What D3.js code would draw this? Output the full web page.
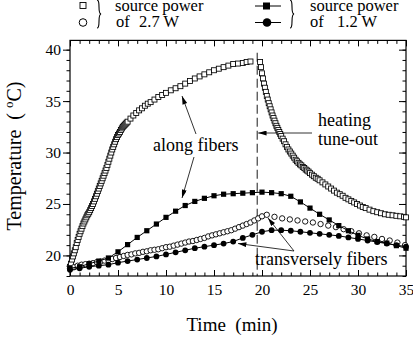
<!DOCTYPE html>
<html>
<head>
<meta charset="utf-8">
<script src="https://cdn.jsdelivr.net/npm/d3@7"></script>
<style>
  body { margin: 0; background: #fff; }
  svg { display: block; font-family: "Liberation Serif", "Times New Roman", serif; }
  .tick text { font-size: 15.5px; fill: #000; font-family: "Liberation Serif", serif; }
  .tick line { stroke: #000; stroke-width: 1; }
</style>
</head>
<body>
<svg id="chart" width="413" height="339"></svg>
<script>
// 2.7 W, along fibers (open squares)
const highAlongTime = [
  0, 0.1, 0.2, 0.3, 0.4, 0.5, 0.6, 0.7, 0.8, 0.9,
  1.0, 1.1, 1.2, 1.3, 1.4, 1.5, 1.6, 1.7, 1.8, 1.9,
  2.0, 2.1, 2.2, 2.3, 2.4, 2.5, 2.6, 2.7, 2.8, 2.9,
  3.0, 3.1, 3.2, 3.3, 3.4, 3.5, 3.6, 3.7, 3.8, 3.9,
  4.0, 4.1, 4.2, 4.3, 4.4, 4.5, 4.6, 4.7, 4.8, 4.9,
  5.0, 5.1, 5.2, 5.3, 5.4, 5.5, 5.6, 5.7, 5.8, 5.9, 6.0,
  6.3, 6.6, 6.9, 7.2, 7.5, 7.8, 8.1, 8.4, 8.8, 9.2, 9.6, 10.0,
  10.5, 11.0, 11.5, 12.0, 12.5, 13.0, 13.5, 14.0, 14.5, 15.0, 15.5, 16.0, 16.5,
  17.0, 17.5, 18.0, 18.4, 18.8,
  19.8, 19.9, 20.0, 20.1, 20.2, 20.3, 20.4, 20.5, 20.6, 20.7, 20.8, 20.9,
  21.0, 21.1, 21.2, 21.3, 21.4, 21.5, 21.6, 21.7, 21.8, 21.9, 22.0,
  22.15, 22.3, 22.45, 22.6, 22.75, 22.9, 23.05, 23.2, 23.35, 23.5, 23.65, 23.8,
  23.95, 24.1, 24.25, 24.4, 24.55, 24.7, 24.85, 25.0,
  25.2, 25.4, 25.6, 25.8, 26.0, 26.3, 26.6, 26.9, 27.2, 27.5, 27.8,
  28.1, 28.4, 28.7, 29.0, 29.3, 29.6, 29.9, 30.2, 30.5, 30.8, 31.2, 31.6, 32.0,
  32.4, 32.8, 33.2, 33.6, 34.0, 34.4, 34.8, 35.0
];
const highAlongTemp = [
  18.9, 19.2, 19.6, 19.9, 20.2, 20.5, 20.8, 21.2, 21.5, 21.8,
  22.1, 22.35, 22.6, 22.85, 23.1, 23.3, 23.5, 23.7, 23.9, 24.05,
  24.2, 24.4, 24.6, 24.8, 25.0, 25.25, 25.5, 25.75, 26.0, 26.25,
  26.5, 26.75, 27.0, 27.25, 27.5, 27.75, 28.0, 28.25, 28.5, 28.8,
  29.1, 29.4, 29.7, 30.0, 30.3, 30.55, 30.8, 31.05, 31.3, 31.5,
  31.7, 31.85, 32.0, 32.2, 32.35, 32.5, 32.6, 32.7, 32.8, 32.9, 33.0,
  33.3, 33.6, 33.85, 34.1, 34.3, 34.55, 34.75, 34.9, 35.15, 35.4, 35.6, 35.8,
  36.05, 36.25, 36.45, 36.7, 36.95, 37.2, 37.4, 37.6, 37.8, 38.0, 38.15, 38.3, 38.45,
  38.6, 38.65, 38.7, 38.8, 38.85,
  38.8, 38.3, 37.7, 37.2, 36.7, 36.3, 35.9, 35.5, 35.15, 34.8, 34.5, 34.2,
  33.9, 33.6, 33.35, 33.1, 32.85, 32.6, 32.4, 32.2, 32.0, 31.8, 31.6,
  31.35, 31.1, 30.8, 30.55, 30.3, 30.1, 29.9, 29.7, 29.5, 29.3, 29.15, 29.0,
  28.85, 28.75, 28.6, 28.5, 28.35, 28.25, 28.15, 28.0,
  27.85, 27.7, 27.55, 27.45, 27.3, 27.1, 26.9, 26.7, 26.5, 26.3, 26.1,
  25.95, 25.8, 25.6, 25.45, 25.3, 25.15, 25.0, 24.85, 24.7, 24.6, 24.45, 24.3, 24.2,
  24.1, 24.0, 23.95, 23.9, 23.85, 23.8, 23.75, 23.7
];

// 2.7 W, transversely (open circles)
const highTransTime = [
  0, 0.4, 0.8, 1.2, 1.6, 2.0, 2.4, 2.8, 3.2, 3.6, 4.0, 4.4, 4.8, 5.2, 5.6, 6.0,
  6.4, 6.8, 7.2, 7.6, 8.0, 8.4, 8.8, 9.2, 9.6, 10.0, 10.4, 10.8, 11.2, 11.6, 12.0,
  12.4, 12.8, 13.2, 13.6, 14.0, 14.4, 14.8, 15.2, 15.6, 16.0, 16.4, 16.8, 17.2,
  17.6, 18.0, 18.4, 18.8, 19.2, 19.6, 20.0,
  20.5, 21.3, 22.1, 22.9, 23.7, 24.5, 25.3, 26.1, 26.9, 27.7, 28.5, 29.3, 30.1,
  30.9, 31.7, 32.5, 33.3, 34.1, 34.9
];
const highTransTemp = [
  18.75, 18.85, 19.0, 19.1, 19.15, 19.2, 19.25, 19.35, 19.4, 19.5, 19.55, 19.65, 19.75, 19.85, 19.95, 20.05,
  20.1, 20.2, 20.25, 20.35, 20.4, 20.5, 20.55, 20.6, 20.7, 20.8, 20.85, 20.95, 21.05, 21.15, 21.25,
  21.35, 21.4, 21.5, 21.6, 21.7, 21.85, 21.95, 22.05, 22.15, 22.25, 22.35, 22.45, 22.6,
  22.75, 22.9, 23.05, 23.2, 23.4, 23.6, 23.8,
  23.95, 23.75, 23.6, 23.5, 23.4, 23.3, 23.2, 23.05, 22.9, 22.75, 22.55, 22.35, 22.15,
  21.95, 21.8, 21.6, 21.45, 21.25, 21.0
];

// 1.2 W series, one reading per minute
const lowTime = [
  0, 1, 2, 3, 4, 5, 6, 7, 8, 9, 10, 11, 12, 13, 14, 15, 16, 17,
  18, 19, 20, 21, 22, 23, 24, 25, 26, 27, 28, 29, 30, 31, 32, 33, 34, 35
];
const lowAlongTemp = [
  18.75, 18.9, 19.2, 19.45, 19.75, 20.35, 21.05, 21.75, 22.4, 23.05, 23.7, 24.3, 24.85, 25.25, 25.55, 25.8, 25.95, 26.0,
  26.05, 26.1, 26.15, 26.1, 26.0, 25.75, 25.2, 24.6, 24.0, 23.45, 22.9, 22.4, 21.95, 21.6, 21.35, 21.2, 20.95, 20.7
];
const lowTransTemp = [
  18.6, 18.75, 18.9, 19.0, 19.1, 19.3, 19.45, 19.6, 19.75, 19.9, 20.1, 20.3, 20.5, 20.7, 20.85, 21.0, 21.15, 21.35,
  21.7, 22.0, 22.3, 22.45, 22.45, 22.4, 22.3, 22.2, 22.1, 22.0, 21.9, 21.75, 21.6, 21.45, 21.3, 21.15, 21.0, 20.85
];

const tuneOutTime = 19.5;
const xTicks = [0, 5, 10, 15, 20, 25, 30, 35];
const yTicks = [20, 25, 30, 35, 40];

const svg = d3.select('#chart');
const plotLeft = 70, plotRight = 406, plotTop = 40.4, plotBottom = 276;

const x = d3.scaleLinear().domain([0, 35]).range([plotLeft, plotRight]);
const y = d3.scaleLinear().domain([18, 40.9]).range([plotBottom, plotTop]);

const zip = (ts, vs) => ts.map((t, i) => [t, vs[i]]);

// axes: major and minor ticks on all four sides
function addAxis(axisFn, transform, ticks, size, labels) {
  const g = svg.append('g')
    .attr('transform', transform)
    .call(axisFn.tickValues(ticks).tickSize(size).tickPadding(2)
      .tickFormat(labels ? d3.format('d') : ''))
    .attr('font-family', null)
    .attr('font-size', null);
  g.select('.domain').remove();
  return g;
}
const minorX = d3.range(0, 36, 1);
const minorY = d3.range(18, 41, 1);

addAxis(d3.axisBottom(x), `translate(0,${plotBottom})`, minorX, -3.5, false);
addAxis(d3.axisBottom(x), `translate(0,${plotBottom})`, xTicks, -6, true)
  .selectAll('text').attr('y', 8);
addAxis(d3.axisTop(x), `translate(0,${plotTop})`, minorX, -3.5, false);
addAxis(d3.axisTop(x), `translate(0,${plotTop})`, xTicks, -6, false);
addAxis(d3.axisLeft(y), `translate(${plotLeft},0)`, minorY, 3.5, false);
addAxis(d3.axisLeft(y), `translate(${plotLeft},0)`, yTicks, 7, true);
addAxis(d3.axisRight(y), `translate(${plotRight},0)`, minorY, -3.5, false);
addAxis(d3.axisRight(y), `translate(${plotRight},0)`, yTicks, -7, false);

svg.append('rect')
  .attr('x', plotLeft).attr('y', plotTop)
  .attr('width', plotRight - plotLeft).attr('height', plotBottom - plotTop)
  .attr('fill', 'none').attr('stroke', '#000').attr('stroke-width', 1.2);

// axis titles
svg.append('text')
  .attr('x', (plotLeft + plotRight) / 2 - 6).attr('y', 331)
  .attr('text-anchor', 'middle').attr('font-size', 19)
  .attr('xml:space', 'preserve')
  .text('Time  (min)');

const yTitle = svg.append('text')
  .attr('transform', 'translate(21,156) rotate(-90)')
  .attr('text-anchor', 'middle').attr('font-size', 20)
  .attr('xml:space', 'preserve');
yTitle.append('tspan').text('Temperature  ( ');
yTitle.append('tspan').attr('font-size', 13).attr('dy', -8).text('o');
yTitle.append('tspan').attr('dy', 8).text('C)');

// arrowhead
svg.append('defs').append('marker')
  .attr('id', 'head')
  .attr('viewBox', '0 0 10 6')
  .attr('refX', 10).attr('refY', 3)
  .attr('markerWidth', 9).attr('markerHeight', 5)
  .attr('markerUnits', 'userSpaceOnUse')
  .attr('orient', 'auto')
  .append('path').attr('d', 'M0,0 L10,3 L0,6 Z').attr('fill', '#000');

function arrow(x1, y1, x2, y2) {
  svg.append('line')
    .attr('x1', x1).attr('y1', y1).attr('x2', x2).attr('y2', y2)
    .attr('stroke', '#000').attr('stroke-width', 0.8)
    .attr('marker-end', 'url(#head)');
}

// heating tune-out arrow sits under the squares
arrow(312, 133, x(tuneOutTime) + 1, 133);

// dashed tune-out line
svg.append('line')
  .attr('x1', x(tuneOutTime)).attr('x2', x(tuneOutTime))
  .attr('y1', y(39.7)).attr('y2', y(18))
  .attr('stroke', '#000').attr('stroke-width', 0.9)
  .attr('stroke-dasharray', '9,4');

// 2.7 W along fibers: open squares
const sq = 5;
svg.append('g').selectAll('rect')
  .data(zip(highAlongTime, highAlongTemp))
  .enter().append('rect')
  .attr('x', d => x(d[0]) - sq / 2).attr('y', d => y(d[1]) - sq / 2)
  .attr('width', sq).attr('height', sq)
  .attr('fill', '#fff').attr('stroke', '#000').attr('stroke-width', 0.85);

// 2.7 W transversely: open circles
svg.append('g').selectAll('circle')
  .data(zip(highTransTime, highTransTemp))
  .enter().append('circle')
  .attr('cx', d => x(d[0])).attr('cy', d => y(d[1])).attr('r', 2.7)
  .attr('fill', '#fff').attr('stroke', '#000').attr('stroke-width', 0.9);

const line = d3.line().x(d => x(d[0])).y(d => y(d[1]));

// 1.2 W along fibers: filled squares with line
const lowAlong = zip(lowTime, lowAlongTemp);
svg.append('path').attr('d', line(lowAlong))
  .attr('fill', 'none').attr('stroke', '#000').attr('stroke-width', 1);
svg.append('g').selectAll('rect')
  .data(lowAlong)
  .enter().append('rect')
  .attr('x', d => x(d[0]) - 2.6).attr('y', d => y(d[1]) - 2.6)
  .attr('width', 5.2).attr('height', 5.2).attr('fill', '#000');

// 1.2 W transversely: filled circles with line
const lowTrans = zip(lowTime, lowTransTemp);
svg.append('path').attr('d', line(lowTrans))
  .attr('fill', 'none').attr('stroke', '#000').attr('stroke-width', 1);
svg.append('g').selectAll('circle')
  .data(lowTrans)
  .enter().append('circle')
  .attr('cx', d => x(d[0])).attr('cy', d => y(d[1])).attr('r', 2.9)
  .attr('fill', '#000');

// annotations
const note = (tx, ty, s) => svg.append('text')
  .attr('x', tx).attr('y', ty).attr('font-size', 18).text(s);
note(153, 151, 'along fibers');
note(318, 126, 'heating');
note(318, 145, 'tune-out');
note(255, 265, 'transversely fibers');

arrow(196, 134, 182, 96);
arrow(194, 157, 182, 198);
arrow(294, 251, 268, 218);
arrow(294, 251, 238, 243.5);

// legend
function brace(bx, y0, y1) {
  const ym = (y0 + y1) / 2, w = 4;
  svg.append('path')
    .attr('d', `M${bx},${y0} C${bx + w},${y0} ${bx},${ym - 1} ${bx + w},${ym}` +
      ` C${bx},${ym + 1} ${bx + w},${y1} ${bx},${y1}`)
    .attr('fill', 'none').attr('stroke', '#000').attr('stroke-width', 1.1);
}
svg.append('rect').attr('x', 80).attr('y', 2.5).attr('width', 6).attr('height', 6)
  .attr('fill', '#fff').attr('stroke', '#000').attr('stroke-width', 0.9);
svg.append('circle').attr('cx', 83).attr('cy', 22.5).attr('r', 3.8)
  .attr('fill', '#fff').attr('stroke', '#000').attr('stroke-width', 1);
brace(97, 0, 28);

svg.append('line').attr('x1', 255).attr('x2', 281).attr('y1', 6).attr('y2', 6)
  .attr('stroke', '#000').attr('stroke-width', 1);
svg.append('rect').attr('x', 263).attr('y', 2.5).attr('width', 7).attr('height', 7).attr('fill', '#000');
svg.append('line').attr('x1', 255).attr('x2', 281).attr('y1', 22.5).attr('y2', 22.5)
  .attr('stroke', '#000').attr('stroke-width', 1);
svg.append('circle').attr('cx', 267).attr('cy', 22.5).attr('r', 4.3).attr('fill', '#000');
brace(290, 0, 28);

const legendText = (tx, ty, s) => svg.append('text')
  .attr('x', tx).attr('y', ty).attr('font-size', 16.5).text(s);
legendText(115, 10.5, 'source power');
legendText(116, 27, 'of');
legendText(139, 27, '2.7 W');
legendText(310, 10.5, 'source power');
legendText(310, 27, 'of');
legendText(337, 27, '1.2 W');
</script>
</body>
</html>
